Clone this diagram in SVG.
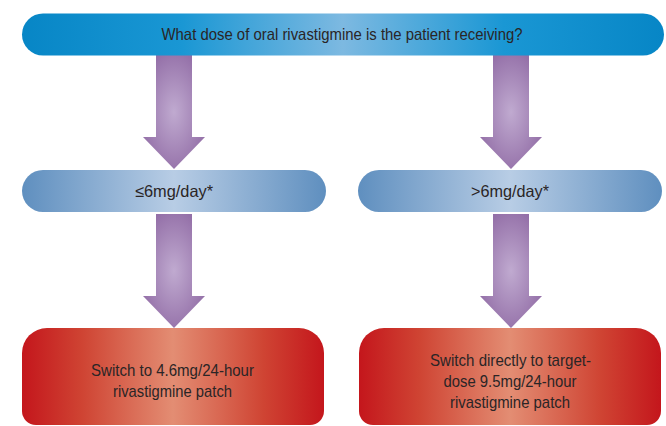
<svg xmlns="http://www.w3.org/2000/svg" width="666" height="426" viewBox="0 0 666 426">
<defs>
<linearGradient id="gTop" x1="0" y1="0" x2="1" y2="0">
<stop offset="0" stop-color="#0786c6"/><stop offset="0.25" stop-color="#1a97d4"/><stop offset="0.5" stop-color="#7db9e1"/><stop offset="0.75" stop-color="#1a97d4"/><stop offset="1" stop-color="#0786c6"/>
</linearGradient>
<linearGradient id="gMid" x1="0" y1="0" x2="1" y2="0">
<stop offset="0" stop-color="#5f8fbf"/><stop offset="0.5" stop-color="#b8cde5"/><stop offset="1" stop-color="#5f8fbf"/>
</linearGradient>
<linearGradient id="gBot" x1="0" y1="0" x2="1" y2="0">
<stop offset="0" stop-color="#c4161c"/><stop offset="0.2" stop-color="#cf4433"/><stop offset="0.5" stop-color="#e38d73"/><stop offset="0.8" stop-color="#cf4433"/><stop offset="1" stop-color="#c4161c"/>
</linearGradient>
<radialGradient id="gArr" cx="0.5" cy="0.5" r="0.55">
<stop offset="0" stop-color="#c0aad0"/><stop offset="1" stop-color="#9470a8"/>
</radialGradient>
<path id="arrow" d="M-18,0 L18,0 L18,82 L31,82 L0,114 L-31,82 L-18,82 Z"/>
</defs>
<style>
.t{font-family:"Liberation Sans Narrow","Liberation Sans",Arial,sans-serif;fill:#2a2526;text-anchor:middle;}
.a{fill:url(#gArr);}
</style>
<rect width="666" height="426" fill="#ffffff"/>
<g id="connectors">
<use href="#arrow" class="a" x="174" y="55"/>
<use href="#arrow" class="a" x="511" y="55"/>
<use href="#arrow" class="a" x="174" y="214"/>
<use href="#arrow" class="a" x="511" y="214"/>
</g>
<g id="question">
<rect x="22" y="13.5" width="642" height="42" rx="21" fill="url(#gTop)"/>
<text class="t" x="342" y="40" font-size="16.5" textLength="361" lengthAdjust="spacingAndGlyphs">What dose of oral rivastigmine is the patient receiving?</text>
</g>
<g id="low">
<rect x="22" y="170" width="304" height="42" rx="21" fill="url(#gMid)"/>
<text class="t" x="174" y="197" font-size="16.5" textLength="78" lengthAdjust="spacingAndGlyphs">≤6mg/day*</text>
</g>
<g id="high">
<rect x="358" y="170" width="304" height="42" rx="21" fill="url(#gMid)"/>
<text class="t" x="510" y="197" font-size="16.5" textLength="78" lengthAdjust="spacingAndGlyphs">&gt;6mg/day*</text>
</g>
<g id="switch-low">
<path d="M47,328 H299 A25,25 0 0 1 324,353 V411 A14,14 0 0 1 310,425 H36 A14,14 0 0 1 22,411 V353 A25,25 0 0 1 47,328 Z" fill="url(#gBot)"/>
<text class="t" font-size="17" lengthAdjust="spacingAndGlyphs"><tspan x="172.5" y="376" textLength="163" lengthAdjust="spacingAndGlyphs">Switch to 4.6mg/24-hour</tspan><tspan x="172.5" y="397" textLength="119" lengthAdjust="spacingAndGlyphs">rivastigmine patch</tspan></text>
</g>
<g id="switch-high">
<path d="M384,328 H636 A25,25 0 0 1 661,353 V411 A14,14 0 0 1 647,425 H373 A14,14 0 0 1 359,411 V353 A25,25 0 0 1 384,328 Z" fill="url(#gBot)"/>
<text class="t" font-size="17"><tspan x="510.5" y="366" textLength="161" lengthAdjust="spacingAndGlyphs">Switch directly to target-</tspan><tspan x="510" y="387" textLength="133" lengthAdjust="spacingAndGlyphs">dose 9.5mg/24-hour</tspan><tspan x="510" y="408" textLength="120" lengthAdjust="spacingAndGlyphs">rivastigmine patch</tspan></text>
</g>
</svg>
